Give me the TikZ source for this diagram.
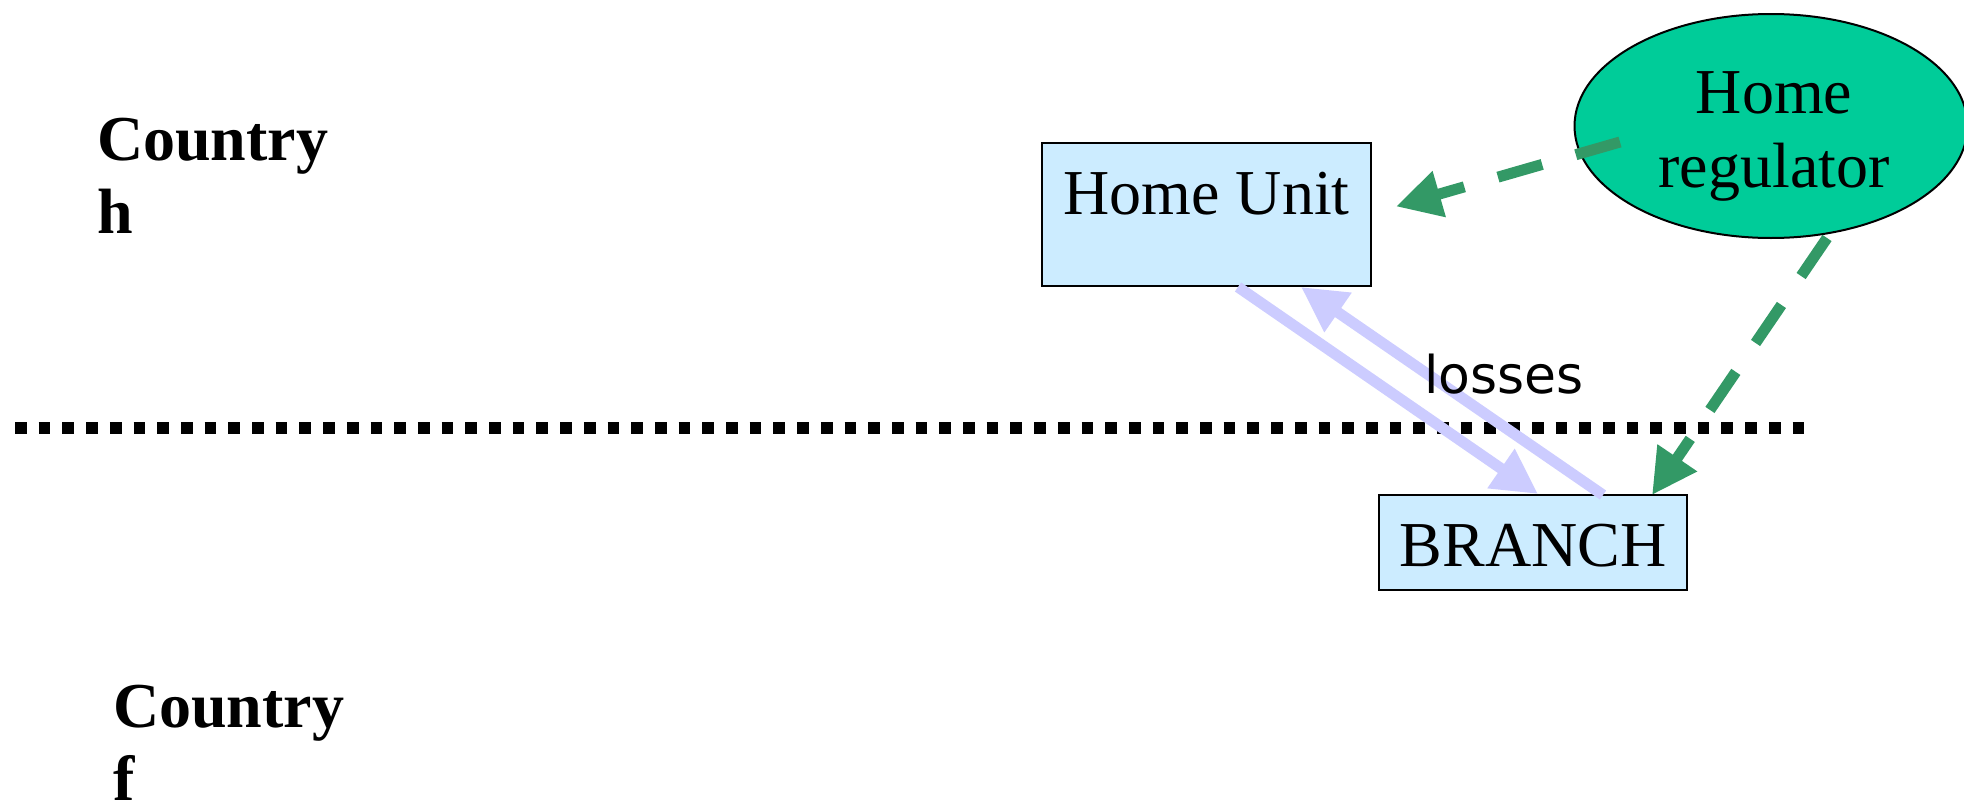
\documentclass[tikz,border=0pt]{standalone}
\usepackage{fontspec}
\setmainfont{Liberation Serif}
\newfontfamily\lossesfont{DejaVu Sans}
\usetikzlibrary{arrows.meta,calc,shapes.geometric}
\definecolor{boxblue}{HTML}{CCECFF}
\definecolor{regfill}{HTML}{00CC99}
\definecolor{greenarrow}{HTML}{339966}
\definecolor{lavender}{HTML}{CCCCFF}
\tikzset{
  unitbox/.style={draw=black, line width=2pt, fill=boxblue, rectangle, inner sep=0pt, outer sep=0pt,
    font=\fontsize{64}{74}\selectfont},
  countrylabel/.style={anchor=base west, align=left, inner sep=0pt, font=\fontsize{64}{73}\selectfont\bfseries},
  flow/.style={draw=lavender, line width=11pt, -{Triangle[length=45pt,width=45pt]}},
  control/.style={draw=greenarrow, line width=11pt, dash pattern=on 46pt off 35pt, -{Triangle[length=45pt,width=45pt]}},
  border/.style={draw=black, line width=11.7pt, dash pattern=on 11.7pt off 12pt}
}
\begin{document}
\begin{tikzpicture}[x=1pt,y=-1pt]
\useasboundingbox (0,0) rectangle (1964,803);
\node[countrylabel] (ch) at (97,233) {Country\\h};
\node[countrylabel] (cf) at (113,800) {Country\\f};
\coordinate (bl) at (15,428);
\coordinate (br) at (1804,428);
\draw[border] (bl) -- (br);
\node[unitbox, minimum width=329pt, text height=71pt, text depth=72pt, anchor=base] (hu) at (1206.5,214) {Home Unit};
\node[unitbox, minimum width=308pt, text height=71pt, text depth=24pt, anchor=base] (bra) at (1533,566) {BRANCH};
\node[ellipse, draw=black, line width=2pt, fill=regfill, minimum width=393pt, minimum height=224pt, inner sep=0pt] (reg) at (1771,126) {};
\node[anchor=base, align=center, inner sep=0pt, font=\fontsize{64}{74}\selectfont] (regt) at (1774,187) {Home\\regulator};
\draw[flow] ($(hu.south)+(31.5,1)$) -- ($(bra.north)+(5,-1)$);
\draw[flow] ($(bra.north)+(70,0)$) -- ($(hu.south)+(94.5,1)$);
\draw[control] ($(reg.center)+(-151,16)$) -- ($(hu.east)+(25,-8)$);
\draw[control] ($(reg.center)+(56,112)$) -- ($(bra.north east)+(-35,0)$);
\node[anchor=base, inner sep=0pt, font=\fontsize{52}{60}\lossesfont] (loss) at (1504,393) {losses};
\end{tikzpicture}
\end{document}
